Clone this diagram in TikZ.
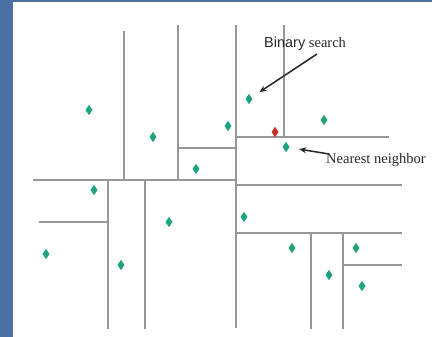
\documentclass[tikz,border=0pt]{standalone}
\usepackage{fontspec}
\setmainfont{Liberation Serif}
\newfontfamily\arialf{Liberation Sans}
\newfontfamily\tnrf{Liberation Serif}
\usetikzlibrary{shapes.geometric,arrows.meta}
\definecolor{bgblue}{RGB}{76,112,163}
\definecolor{gridgray}{RGB}{150,150,150}
\definecolor{teal1}{RGB}{30,162,128}
\definecolor{red1}{RGB}{196,48,40}
\definecolor{txt}{RGB}{40,40,40}
\tikzset{
  split/.style={draw=gridgray, line width=1.1pt},
  pt/.style={diamond, fill=teal1, draw=none, inner sep=0pt, minimum width=7pt, minimum height=10.5pt},
  query/.style={pt, fill=red1},
  lbl/.style={text=txt, inner sep=0pt, anchor=base west, font=\fontsize{14.5}{16}\selectfont},
  pointer/.style={draw=black!85, line width=1.5pt, -{Stealth[length=7pt,width=6pt]}}
}
\begin{document}
\begin{tikzpicture}[x=1pt,y=-1pt]
\useasboundingbox (0,0) rectangle (432,337);
\fill[bgblue] (0,0) rectangle (432,337);
\fill[white] (13,2) rectangle (432,337);
% splitting lines
\draw[split] (124,31) -- (124,180);
\draw[split] (178,25) -- (178,180);
\draw[split] (236,25) -- (236,328);
\draw[split] (284,25) -- (284,137);
\draw[split] (33,180) -- (236,180);
\draw[split] (178,148) -- (236,148);
\draw[split] (236,137) -- (389,137);
\draw[split] (236,185) -- (402,185);
\draw[split] (236,233) -- (402,233);
\draw[split] (108,180) -- (108,329);
\draw[split] (145,180) -- (145,329);
\draw[split] (39,222) -- (108,222);
\draw[split] (311,233) -- (311,329);
\draw[split] (343,233) -- (343,329);
\draw[split] (343,265) -- (402,265);
% points
\node[pt] (d1) at (89,110) {};
\node[pt] (d2) at (153,137) {};
\node[pt] (d3) at (228,126) {};
\node[pt] (d4) at (249,99) {};
\node[pt] (d5) at (324,120) {};
\node[pt] (d6) at (286,147) {};
\node[pt] (d7) at (196,169) {};
\node[pt] (d8) at (94,190) {};
\node[pt] (d9) at (169,222) {};
\node[pt] (d10) at (244,217) {};
\node[pt] (d11) at (46,254) {};
\node[pt] (d12) at (121,265) {};
\node[pt] (d13) at (292,248) {};
\node[pt] (d14) at (356,248) {};
\node[pt] (d15) at (329,275) {};
\node[pt] (d16) at (362,286) {};
\node[query] (q) at (275,132) {};
% labels
\node[lbl] (bs) at (264,48) {{\arialf Binary} {\tnrf search}};
\node[lbl] (nn) at (326,164) {\tnrf Nearest neighbor};
\coordinate (bstail) at (317,54);
\coordinate (nntail) at (329,154);
\draw[pointer, shorten >=9.5pt] (bstail) -- (d4);
\draw[pointer, shorten >=10pt] (nntail) -- (d6);
\end{tikzpicture}
\end{document}
